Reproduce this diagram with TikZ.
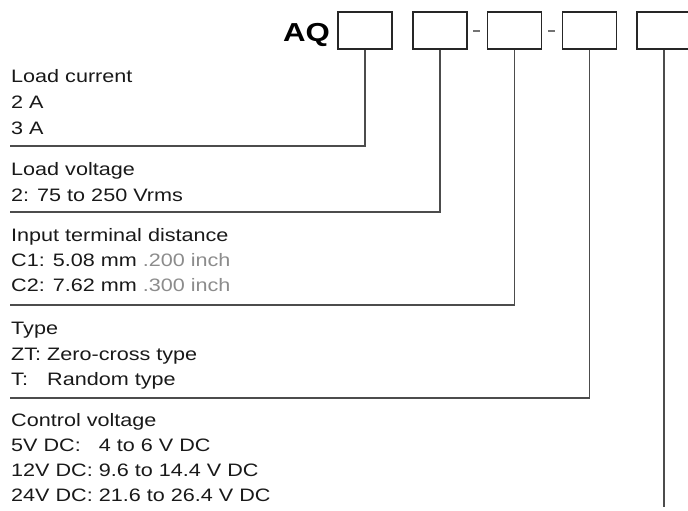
\documentclass[tikz,border=0pt]{standalone}
\usepackage{fontspec}
\setmainfont{Liberation Sans}[FakeStretch=1.2]
\begin{document}
\begin{tikzpicture}[x=1pt,y=-1pt,
  box/.style={draw=black!85,line width=1.1pt,minimum width=54pt,minimum height=37pt,inner sep=0pt},
  lead/.style={draw=black!70,line width=1.1pt},
  label/.style={anchor=base west,inner sep=0pt,font=\fontsize{18}{20}\selectfont,text=black!90},
  dashmark/.style={draw=black!55,line width=1.1pt}]
\clip (0,0) rectangle (688,511);
\fill[white] (0,0) rectangle (688,511);

\node[anchor=base west,inner sep=0pt,font=\fontsize{26}{30}\selectfont\bfseries] (aq) at (283,42) {AQ};
\node[box] (b1) at (365,30.5) {};
\node[box] (b2) at (440,30.5) {};
\node[box] (b3) at (514.5,30.5) {};
\node[box] (b4) at (589.5,30.5) {};
\node[box] (b5) at (664,30.5) {};
\draw[dashmark] (473,31) -- (480,31);
\draw[dashmark] (548,31) -- (555,31);

% section 1
\node[label] (t11) at (11,82) {Load current};
\node[label] (t12) at (11,108) {2 A};
\node[label] (t13) at (11,134) {3 A};
\coordinate (h1) at (10,146);
\draw[lead] (b1.south) |- (h1);

% section 2
\node[label] (t21) at (11,175) {Load voltage};
\node[label] (t22) at (11,201) {2: 75 to 250 Vrms};
\coordinate (h2) at (10,212);
\draw[lead] (b2.south) |- (h2);

% section 3
\node[label] (t31) at (11,241) {Input terminal distance};
\node[label] (t32) at (11,266) {C1: 5.08 mm \textcolor{black!45}{.200 inch}};
\node[label] (t33) at (11,291) {C2: 7.62 mm \textcolor{black!45}{.300 inch}};
\coordinate (h3) at (10,305);
\draw[lead] (b3.south) |- (h3);

% section 4
\node[label] (t41) at (11,334) {Type};
\node[label] (t42) at (11,360) {ZT: Zero-cross type};
\node[label] (t43) at (11,385) {T:\hphantom{Z} Random type};
\coordinate (h4) at (10,398);
\draw[lead] (b4.south) |- (h4);

% section 5
\node[label] (t51) at (11,426) {Control voltage};
\node[label] (t52) at (11,451) {5V DC:\hphantom{1} 4 to 6 V DC};
\node[label] (t53) at (11,476) {12V DC: 9.6 to 14.4 V DC};
\node[label] (t54) at (11,501) {24V DC: 21.6 to 26.4 V DC};
\coordinate (e5) at (664,507);
\draw[lead] (b5.south) -- (e5);
\end{tikzpicture}
\end{document}
